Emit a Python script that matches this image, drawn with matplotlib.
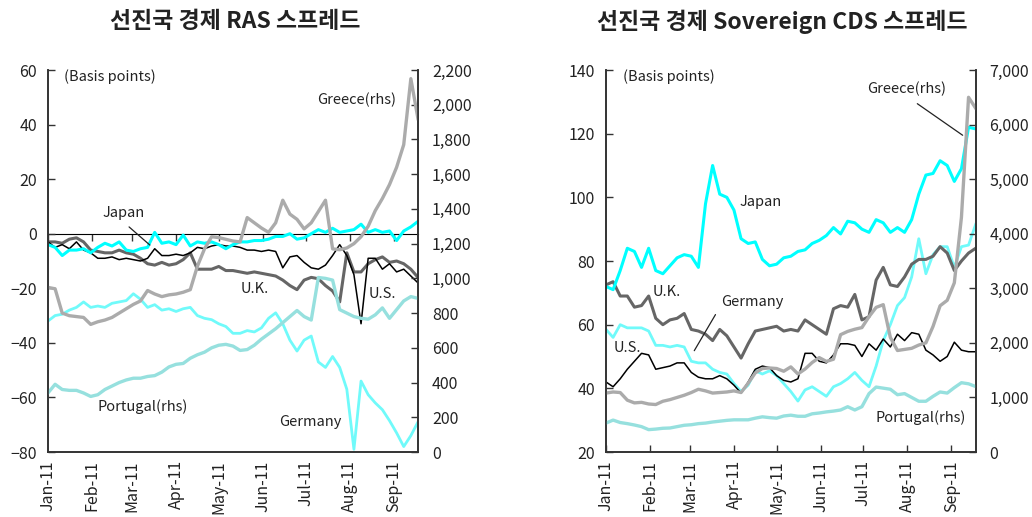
"""Draws the RAS and sovereign CDS spread charts for advanced economies."""

import matplotlib

matplotlib.use("Agg")
import matplotlib.pyplot as plt
import matplotlib.ticker as mticker
import pandas as pd

plt.rcParams["font.family"] = ["Noto Sans CJK KR", "DejaVu Sans"]

DATES = pd.date_range("2011-01-01", periods=53, freq="5D")
MONTHS = pd.date_range("2011-01-01", "2011-09-01", freq="MS")
MONTH_LABELS = ["Jan-11", "Feb-11", "Mar-11", "Apr-11", "May-11",
                "Jun-11", "Jul-11", "Aug-11", "Sep-11"]
X_START = pd.Timestamp("2011-01-01")
X_END = pd.Timestamp("2011-09-18")

# RAS spread (bp), left axis
RAS_JAPAN = [-4, -5, -8, -6, -6, -5.5, -7, -5, -3.5, -4.5, -3, -6, -6.5, -5.5,
             -5, 0.5, -3.5, -3, -4, -0.5, -4.5, -3, -3.5, -3, -4, -5.5, -4,
             -3, -3, -2.5, -2.5, -2, -1, -1, 0, -2, -1.5, 0, 1.5, 0.5, 2, 0.5,
             1, 1.5, 3.5, 0.5, 1.5, 0.5, 1, -2.5, 1, 2.5, 4.5]
RAS_US = [-3, -5, -4, -5.5, -3, -6, -7, -9, -9, -8.5, -9.5, -9, -9.5, -10,
          -9, -5.5, -8, -8, -7.5, -8, -7, -5, -5.5, -4.5, -4, -4.5, -4.5, -5,
          -6, -6, -6.5, -6, -6.5, -12.5, -8.5, -8, -10.5, -12.5, -13, -11.5,
          -8, -4, -8, -15, -33, -9, -9, -13, -11, -14, -13, -15.5, -18]
RAS_UK = [-3, -3, -3.5, -2, -1.5, -3, -6, -6.5, -7, -7, -6, -7, -7.5, -9,
          -11, -11.5, -10.5, -11.5, -11, -9.5, -7, -13, -13, -13, -12, -13.5,
          -13.5, -14, -14.5, -14, -14.5, -15, -15.5, -17, -19, -20.5, -17,
          -16, -16.5, -19, -21, -25, -7, -14, -14, -11, -9.5, -8.5, -10.5,
          -10, -11, -13, -16]
RAS_GERMANY = [-32, -30, -29.5, -28, -27, -25, -27, -26.5, -27, -25.5, -25,
               -24.5, -22, -24, -27, -26, -28, -27.5, -28.5, -27.5, -27, -30,
               -31, -31.5, -33, -34, -36.5, -36.5, -35.5, -36, -34.5, -31,
               -29, -33, -39, -43, -39, -37.5, -47, -49, -45, -49, -57, -79,
               -54, -59, -62, -64.5, -68.5, -73, -78, -74, -69]
# RAS spread (bp), right axis
RAS_GREECE = [948, 940, 800, 785, 780, 775, 735, 750, 760, 775, 800, 825, 850,
              870, 930, 910, 895, 905, 910, 920, 935, 1070, 1170, 1240, 1235,
              1225, 1215, 1210, 1350, 1320, 1290, 1265, 1320, 1450, 1370,
              1340, 1285, 1320, 1385, 1450, 1170, 1165, 1175, 1200, 1240,
              1300, 1390, 1460, 1540, 1640, 1770, 2150, 1920]
RAS_PORTUGAL = [340, 390, 360, 355, 355, 340, 320, 330, 360, 380, 400, 415,
                425, 425, 435, 440, 460, 490, 505, 510, 540, 560, 575, 600,
                615, 620, 610, 585, 590, 615, 650, 680, 710, 745, 780, 815,
                780, 760, 1005, 1000, 990, 820, 800, 780, 770, 765, 790, 830,
                770, 820, 870, 895, 885]

# Sovereign CDS spread (bp), left axis
CDS_JAPAN = [72, 71, 77, 84, 83, 78, 84, 77, 76, 78.5, 81, 82, 81.5, 78, 98,
             110, 101, 100, 96, 87, 85.5, 86, 80.5, 78.5, 79, 81, 81.5, 83,
             83.5, 85.5, 86.5, 88, 90.5, 88.5, 92.5, 92, 90, 89, 93, 92, 89,
             90.5, 89, 93, 101, 107, 107.5, 111.5, 110, 105, 109, 122, 121.5]
CDS_UK = [72.5, 73.5, 69, 69, 65.5, 66, 69, 62, 60, 61.5, 62, 63.5, 58.5, 58,
          57, 55, 58.5, 56.5, 53, 49.5, 54, 58, 58.5, 59, 59.5, 58, 58.5, 58,
          61.5, 60, 58.5, 57, 65, 66, 65.5, 69.5, 61.5, 62.5, 74, 78, 72.5,
          72, 75, 79, 80.5, 80.5, 81.5, 84.5, 82.5, 77, 80, 82.5, 84]
CDS_US = [42, 40.5, 43, 46, 48.5, 51, 50.5, 46, 46.5, 47, 48, 48, 45, 43.5,
          43, 43, 44, 43, 41, 38.5, 42, 46, 47, 46.5, 44, 42.5, 42, 43, 51,
          51, 48.5, 48, 50.5, 54, 54, 53.5, 50, 54, 52, 55.5, 53, 57, 55,
          57.5, 57, 52, 50.5, 48.5, 50, 54.5, 52, 51.5, 51.5]
CDS_GERMANY = [58.5, 56, 60, 59, 59, 59, 58, 53.5, 53.5, 53, 53.5, 53, 48.5,
               48, 48, 46, 45, 44.5, 41.5, 39, 41, 45.5, 44.5, 45.5, 44, 41.5,
               39, 36, 39.5, 40.5, 39, 37.5, 40.5, 41.5, 43, 45, 42.5, 40.5,
               47, 55, 60, 66, 68.5, 75, 87, 76, 82, 84.5, 84.5, 78, 84.5, 85,
               91.5]
# Sovereign CDS spread (bp), right axis
CDS_GREECE = [1080, 1100, 1090, 950, 900, 910, 880, 870, 930, 960, 1000, 1040,
              1090, 1150, 1120, 1080, 1090, 1100, 1120, 1090, 1260, 1450,
              1530, 1540, 1530, 1480, 1560, 1430, 1520, 1640, 1730, 1660,
              1700, 2150, 2210, 2250, 2280, 2480, 2650, 2700, 2100, 1860,
              1880, 1900, 1960, 2000, 2300, 2680, 2780, 3100, 4300, 6500,
              6300]
CDS_PORTUGAL = [530, 585, 540, 520, 495, 465, 410, 420, 435, 440, 465, 490,
                500, 520, 530, 550, 565, 580, 590, 590, 590, 620, 645, 630,
                620, 660, 675, 655, 655, 700, 715, 735, 750, 770, 830, 770,
                830, 1070, 1190, 1170, 1150, 1050, 1070, 1000, 930, 930, 1020,
                1100, 1080, 1180, 1270, 1250, 1200]

JAPAN_COLOR = "#00FFFF"
GERMANY_COLOR = "#70FAFA"
PORTUGAL_COLOR = "#96E0DE"
UK_COLOR = "#666666"
GREECE_COLOR = "#ABABAB"
US_COLOR = "#000000"
AXIS_COLOR = "#333333"
TEXT_COLOR = "#222222"


def main():
    figure = plt.figure(figsize=(10.32, 5.17), dpi=100)
    left = figure.add_axes([0.0465, 0.1257, 0.3585, 0.7389])
    right = figure.add_axes([0.5872, 0.1257, 0.3582, 0.7389])

    # left panel: RAS spread
    left_twin = _setup_axes(left, (-80, 60), 20, (0, 2200), 200)
    left.plot(DATES, RAS_GERMANY, color=GERMANY_COLOR, lw=2.0)
    left.plot(DATES, RAS_UK, color=UK_COLOR, lw=2.2)
    left.plot(DATES, RAS_US, color=US_COLOR, lw=1.1)
    left.plot(DATES, RAS_JAPAN, color=JAPAN_COLOR, lw=2.2)
    left_twin.plot(DATES, RAS_PORTUGAL, color=PORTUGAL_COLOR, lw=2.4)
    left_twin.plot(DATES, RAS_GREECE, color=GREECE_COLOR, lw=2.4)
    # zero line with its own upward month ticks
    zero_axis = left.secondary_xaxis(80 / 140)
    zero_axis.set_xticks(MONTHS)
    zero_axis.xaxis.set_major_formatter(mticker.NullFormatter())
    zero_axis.tick_params(direction="in", length=5, width=1.0,
                          color=AXIS_COLOR)
    zero_axis.spines["bottom"].set_color(AXIS_COLOR)
    zero_axis.spines["bottom"].set_linewidth(1.2)
    left.tick_params(axis="x", length=0)

    _label(left, "(Basis points)", 0.043, 0.982, ha="left", size=10.5)
    _label(left, "Greece(rhs)", 0.835, 0.921)
    _label(left, "U.K.", 0.559, 0.427)
    _label(left, "U.S.", 0.905, 0.414)
    _label(left, "Portugal(rhs)", 0.257, 0.118)
    _label(left, "Germany", 0.708, 0.079)
    _leader(left, "Japan", (0.2035, 0.625), (0.2135, 0.594), (0.281, 0.537))

    # right panel: sovereign CDS spread
    right_twin = _setup_axes(right, (20, 140), 20, (0, 7000), 1000)
    right.plot(DATES, CDS_GERMANY, color=GERMANY_COLOR, lw=2.0)
    right.plot(DATES, CDS_UK, color=UK_COLOR, lw=2.2)
    right.plot(DATES, CDS_US, color=US_COLOR, lw=1.1)
    right.plot(DATES, CDS_JAPAN, color=JAPAN_COLOR, lw=2.2)
    right_twin.plot(DATES, CDS_PORTUGAL, color=PORTUGAL_COLOR, lw=2.4)
    right_twin.plot(DATES, CDS_GREECE, color=GREECE_COLOR, lw=2.4)
    right.tick_params(axis="x", direction="in", length=5, width=1.0)

    _label(right, "(Basis points)", 0.046, 0.982, ha="left", size=10.5)
    _label(right, "Japan", 0.419, 0.654)
    _label(right, "U.K.", 0.165, 0.419)
    _label(right, "U.S.", 0.057, 0.272)
    _label(right, "Portugal(rhs)", 0.852, 0.089)
    _leader(right, "Greece(rhs)", (0.814, 0.950), (0.836, 0.916),
            (0.971, 0.825))
    _leader(right, "Germany", (0.395, 0.393), (0.300, 0.366), (0.235, 0.259))

    figure.text(0.228, 0.958, "선진국 경제 RAS 스프레드", ha="center",
                va="center", fontsize=16.5, fontweight="bold",
                color=TEXT_COLOR)
    figure.text(0.758, 0.958, "선진국 경제 Sovereign CDS 스프레드",
                ha="center", va="center", fontsize=16.5, fontweight="bold",
                color=TEXT_COLOR)

    figure.savefig("out.png", dpi=100)


# -----------------------------------------------------------------------------
#                                                       implementation details
# -----------------------------------------------------------------------------
def _setup_axes(axes, left_range, left_step, right_range, right_step):
    twin = axes.twinx()
    for current in (axes, twin):
        current.set_xlim(X_START, X_END)
        current.spines["top"].set_visible(False)
        for side in ("left", "right", "bottom"):
            current.spines[side].set_color(AXIS_COLOR)
            current.spines[side].set_linewidth(1.2)
        current.tick_params(colors=AXIS_COLOR, labelcolor=TEXT_COLOR,
                            labelsize=11.5, width=1.0)
    axes.set_ylim(*left_range)
    axes.set_yticks(range(left_range[0], left_range[1] + 1, left_step))
    axes.tick_params(axis="y", direction="in", length=5, pad=8)
    twin.set_ylim(*right_range)
    twin.set_yticks(range(right_range[0], right_range[1] + 1, right_step))
    twin.yaxis.set_major_formatter(mticker.StrMethodFormatter("{x:,.0f}"))
    twin.tick_params(axis="y", direction="in", length=5, pad=10)
    axes.set_xticks(MONTHS)
    axes.set_xticklabels(MONTH_LABELS, rotation=90)
    axes.tick_params(axis="x", pad=6)
    return twin


def _label(axes, text, x_pos, y_pos, ha="center", size=10.5):
    axes.text(x_pos, y_pos, text, transform=axes.transAxes, ha=ha,
              va="center", fontsize=size, color=TEXT_COLOR, zorder=10)


def _leader(axes, text, text_pos, start, end):
    _label(axes, text, *text_pos)
    axes.annotate("", xy=end, xytext=start, xycoords="axes fraction",
                  textcoords="axes fraction",
                  arrowprops=dict(arrowstyle="-", color=TEXT_COLOR, lw=0.9),
                  zorder=10)


if __name__ == "__main__":
    main()
